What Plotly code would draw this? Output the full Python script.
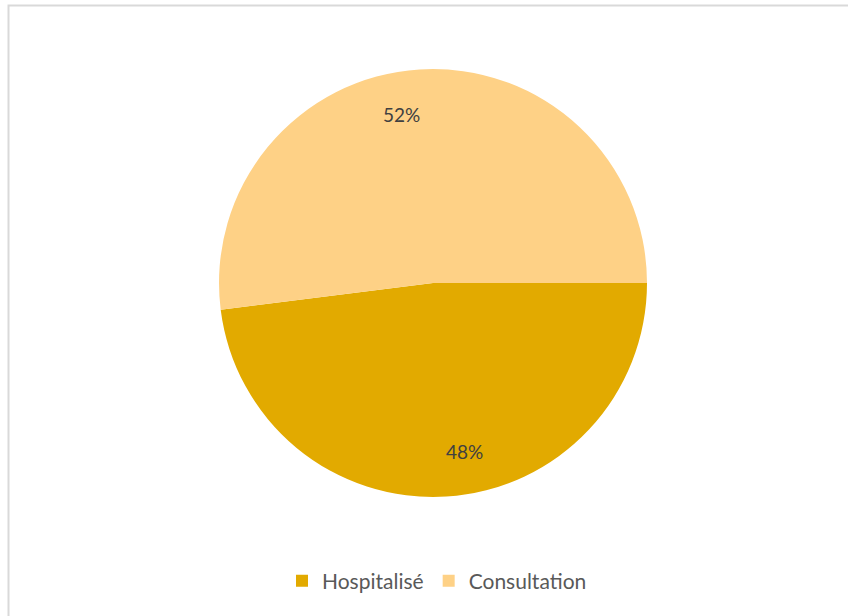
import math
import plotly.graph_objects as go

labels = ["Hospitalisé", "Consultation"]
values = [48, 52]
colors = ["#E2AA00", "#FED186"]

W, H = 848, 616
cx, cy, r = 433, 283, 214
FONT = "Lato, Open Sans, sans-serif"

fig = go.Figure(go.Pie(
    labels=labels, values=values, sort=False, direction="clockwise", rotation=90,
    marker=dict(colors=colors, line=dict(width=0)),
    textinfo="none",
    domain=dict(x=[(cx - 400) / W, (cx + 400) / W], y=[1 - (cy + r) / H, 1 - (cy - r) / H]),
    hoverinfo="label+percent",
))

# percentage labels placed along each slice's mid-angle, near the outer part
total = sum(values)
annotations = []
start = 0.0  # degrees clockwise from 3 o'clock
for lab, v in zip(labels, values):
    frac = v / total
    mid = start + frac * 360 / 2 - 7  # slight CCW shift as in reference
    start += frac * 360
    a = math.radians(mid)
    px = cx + 0.80 * r * math.cos(a)
    py = cy + 0.80 * r * math.sin(a)
    annotations.append(dict(x=px / W, y=1 - py / H, xref="paper", yref="paper",
                            xanchor="center", yanchor="middle",
                            text=f"{round(frac * 100)}%", showarrow=False,
                            font=dict(family=FONT, size=19, color="#404040")))

fig.update_layout(
    width=W, height=H, margin=dict(l=0, r=0, t=0, b=0),
    paper_bgcolor="white", plot_bgcolor="white",
    showlegend=True,
    legend=dict(orientation="h", x=437 / W, xanchor="center", y=1 - 581 / H, yanchor="middle",
                font=dict(family=FONT, size=21, color="#595959"),
                itemwidth=30, traceorder="normal"),
    annotations=annotations,
    shapes=[dict(type="rect", xref="paper", yref="paper",
                 x0=8.5 / W, x1=1.02, y0=-0.02, y1=1 - 5.5 / H,
                 line=dict(color="#D9D9D9", width=2), fillcolor="rgba(0,0,0,0)", layer="below")],
)

fig.write_html("out.html", config={"displayModeBar": False},
               post_script="document.body.style.margin='0';document.body.style.overflow='hidden';")
